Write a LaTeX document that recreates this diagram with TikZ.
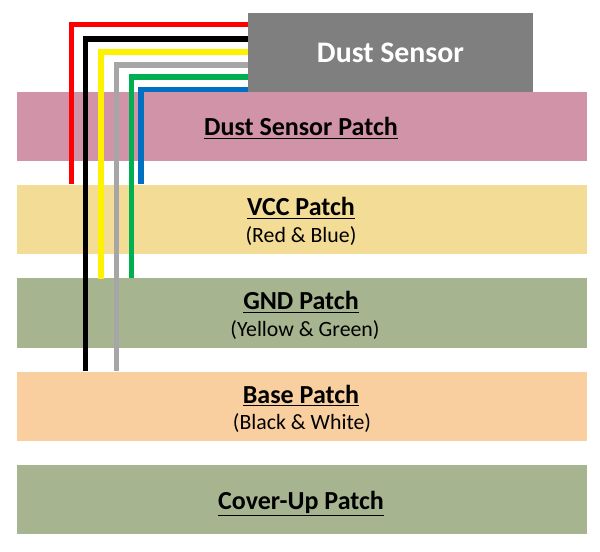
\documentclass[tikz,border=0pt]{standalone}
\usepackage{fontspec}
\setmainfont{Carlito}
\usetikzlibrary{calc}
\definecolor{patchpink}{HTML}{D093A7}
\definecolor{patchyellow}{HTML}{F3DC95}
\definecolor{patchgreen}{HTML}{A6B58F}
\definecolor{patchorange}{HTML}{F9CFA0}
\definecolor{sensorgray}{HTML}{7F7F7F}
\definecolor{wiregreen}{HTML}{00B050}
\definecolor{wireblue}{HTML}{0070C0}
\definecolor{wiregray}{HTML}{A6A6A6}
\begin{document}
\begin{tikzpicture}[
    x=0.025cm, y=-0.025cm,
    patch/.style={minimum width=14.25cm, minimum height=1.74cm, inner sep=0pt, align=center, font=\fontsize{18.5}{22}\selectfont},
    wire/.style={line width=3.8pt, line join=miter},
    sub/.style={font=\fontsize{15.5}{18}\selectfont}
]
\useasboundingbox (0,0) rectangle (600,552);

% Define patches
\node[patch, fill=patchpink] (dustpatch) at (302,126.5) {};
\node[patch, fill=patchyellow] (vcc) at (302,219.5) {};
\node[patch, fill=patchgreen] (gnd) at (302,313) {};
\node[patch, fill=patchorange] (base) at (302,406.5) {};
\node[patch, fill=patchgreen] (cover) at (302,499.5) {};

% Wire end points
\coordinate (red_in) at (250,24.5);
\coordinate (black_in) at (250,39);
\coordinate (yellow_in) at (250,52);
\coordinate (gray_in) at (250,65);
\coordinate (green_in) at (250,77);
\coordinate (blue_in) at (250,89.5);

\coordinate (red_out) at ($(vcc.north west)+(55,0)$);
\coordinate (black_out) at ($(base.north west)+(69,0)$);
\coordinate (yellow_out) at ($(gnd.north west)+(84.5,1)$);
\coordinate (gray_out) at ($(base.north west)+(100,0)$);
\coordinate (green_out) at ($(gnd.north west)+(115,0)$);
\coordinate (blue_out) at ($(vcc.north west)+(124.5,0)$);

% Draw wires
\draw[wire, red] (red_in) -| (red_out);
\draw[wire, black] (black_in) -| (black_out);
\draw[wire, yellow] (yellow_in) -| (yellow_out);
\draw[wire, wiregray] (gray_in) -| (gray_out);
\draw[wire, wiregreen] (green_in) -| (green_out);
\draw[wire, wireblue] (blue_in) -| (blue_out);

% Draw sensor
\node[fill=sensorgray, text=white, minimum width=7.125cm, minimum height=1.975cm, inner sep=0pt, font=\fontsize{21.2}{25}\selectfont\bfseries] (sensor) at (390.5,52.5) {Dust Sensor};

% Draw labels
\node[patch] (dustlabel) at (301,128) {\textbf{\underline{Dust Sensor Patch}}};
\node[patch] (vcclabel) at (301,208) {\textbf{\underline{VCC Patch}}};
\node[sub] (vccsub) at (301,236) {(Red \& Blue)};
\node[patch] (gndlabel) at (301,302) {\textbf{\underline{GND Patch}}};
\node[sub] (gndsub) at (305,330) {(Yellow \& Green)};
\node[patch] (baselabel) at (301,395.5) {\textbf{\underline{Base Patch}}};
\node[sub] (basesub) at (302,423.5) {(Black \& White)};
\node[patch] (coverlabel) at (301,503.5) {\textbf{\underline{Cover-Up Patch}}};

\end{tikzpicture}
\end{document}
